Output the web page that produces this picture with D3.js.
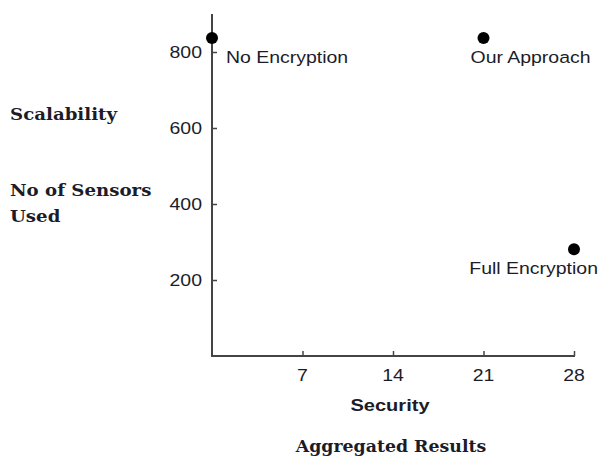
<!DOCTYPE html>
<html><head><meta charset="utf-8">
<script src="https://cdn.jsdelivr.net/npm/d3@7"></script>
<style>body{margin:0;background:#fff}svg{display:block}</style>
</head><body>
<svg id="c" width="601" height="457"></svg>
<script>
const names = ["No Encryption", "Our Approach", "Full Encryption"];
const security = [0, 21, 28];
const sensors = [837, 837, 281];
const xTicks = [7, 14, 21, 28];
const yTicks = [200, 400, 600, 800];
const xTitle = "Security";
const yTitle1 = "Scalability";
const yTitle2 = ["No of Sensors", "Used"];
const caption = "Aggregated Results";

const svg = d3.select("#c");
const x = d3.scaleLinear().domain([0, 28]).range([212, 574]);
const y = d3.scaleLinear().domain([0, 900]).range([356, 14]);
const SX = 1.18;
const txtCol = "#1c1c28";

function stext(g, str, px, py, opts) {
  const t = g.append("text")
    .attr("transform", `translate(${px},${py}) scale(${opts.sx || SX},1)`)
    .attr("text-anchor", opts.anchor || "start")
    .attr("font-family", opts.family || "'Liberation Sans', Arial, sans-serif")
    .attr("font-size", opts.size || 16.5)
    .attr("font-weight", opts.weight || "normal")
    .attr("fill", txtCol)
    .text(str);
  return t;
}

// Y axis
const yAxis = svg.append("g").attr("transform", `translate(${x(0)},0)`)
  .call(d3.axisLeft(y).tickValues(yTicks).tickSize(-5).tickPadding(0).tickFormat(() => ""));
yAxis.select(".domain").attr("d", `M0,${y(900)}V${y(0)+1}`);
yAxis.selectAll("line").attr("stroke", "#444").attr("stroke-width", 1.5);
yAxis.select(".domain").attr("stroke", "#444").attr("stroke-width", 2);
yTicks.forEach(v => stext(svg, String(v), 202, y(v) + 6, {anchor: "end"}));

// X axis
const xAxis = svg.append("g").attr("transform", `translate(0,${y(0)})`)
  .call(d3.axisBottom(x).tickValues(xTicks).tickSize(-5).tickFormat(() => ""));
xAxis.select(".domain").attr("d", `M${x(0)-1},0H${x(28)+1}`).attr("stroke", "#444").attr("stroke-width", 2);
xAxis.selectAll("line").attr("stroke", "#444").attr("stroke-width", 1.5);
xTicks.forEach(v => stext(svg, String(v), x(v), 381, {anchor: "middle"}));

// Points
const pts = names.map((n, i) => ({n, sx: security[i], sy: sensors[i]}));
svg.append("g").selectAll("circle").data(pts).enter().append("circle")
  .attr("cx", d => x(d.sx)).attr("cy", d => y(d.sy)).attr("r", 6).attr("fill", "#000");

// Point labels
const lab = [
  {dx: 14, dy: 25, anchor: "start"},
  {dx: -13, dy: 25, anchor: "start"},
  {dx: 24, dy: 25, anchor: "end"}
];
pts.forEach((d, i) => stext(svg, d.n, x(d.sx) + lab[i].dx, y(d.sy) + lab[i].dy, {anchor: lab[i].anchor}));

// Axis titles
stext(svg, xTitle, 390, 411, {anchor: "middle", weight: "bold", size: 17});
const serif = "'DejaVu Serif', 'Liberation Serif', serif";
stext(svg, yTitle1, 10, 120, {family: serif, weight: "bold", size: 17, sx: 1.07});
stext(svg, yTitle2[0], 10, 196, {family: serif, weight: "bold", size: 17, sx: 1.07});
stext(svg, yTitle2[1], 10, 222, {family: serif, weight: "bold", size: 17, sx: 1.07});
stext(svg, caption, 391, 452, {anchor: "middle", family: serif, weight: "bold", size: 17, sx: 1.02});
</script>
</body></html>
